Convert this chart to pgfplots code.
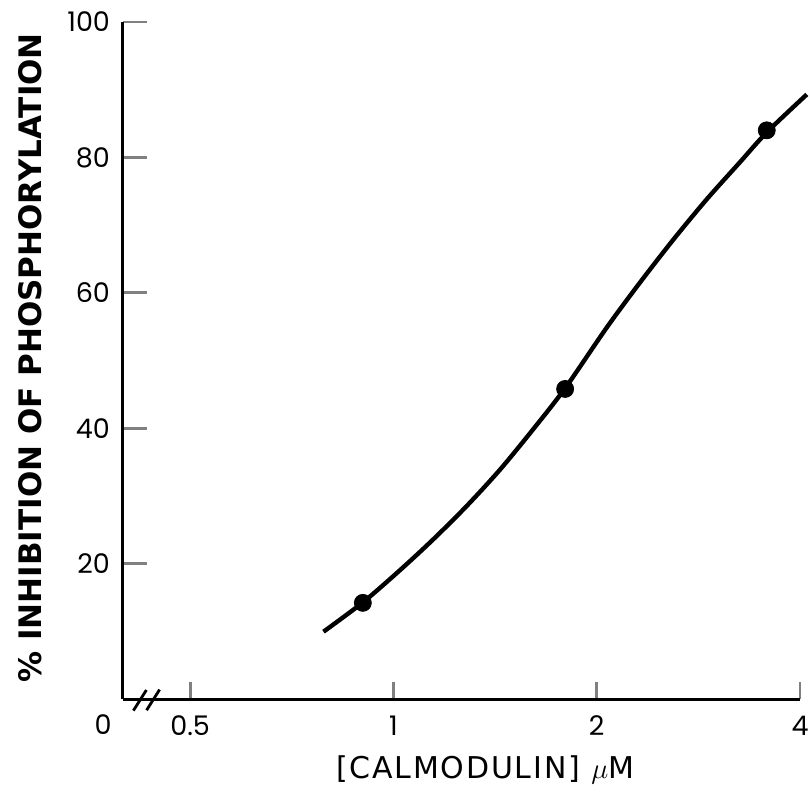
\documentclass[border=0pt]{standalone}
\usepackage{fontspec}
\setmainfont{Poppins}
\newfontfamily\ylabfont{DejaVu Sans}
\newfontfamily\xlabfont{DejaVu Sans}[LetterSpace=6]
\usepackage{pgfplots}
\pgfplotsset{compat=1.18}
\begin{document}
\begin{tikzpicture}
\begin{axis}[
    width=338.5pt, height=338.5pt, scale only axis,
    xmode=log, log basis x=2,
    xmin=0.3978, xmax=4, ymin=0, ymax=100,
    axis lines=left,
    axis line style={line width=1.5pt,-},
    xtick={0.5,1,2,4}, xticklabels={0.5,1,2,4},
    ytick={20,40,60,80,100},
    tick align=inside,
    major tick length=12pt,
    xtick style={line width=1.4pt,/pgfplots/major tick length=8.5pt},
    ytick style={line width=1.4pt},
    tick label style={font=\fontsize{13.5}{15}\selectfont},
    xticklabel style={yshift=-5pt},
    yticklabel style={xshift=-3pt},
    /pgf/number format/assume math mode=true,
    xlabel={[CALMODULIN] $\mu$M},
    ylabel={\% INHIBITION OF PHOSPHORYLATION},
    xlabel style={at={(axis description cs:0.535,-0.105)},anchor=center,font=\xlabfont\fontsize{15}{17}\selectfont},
    ylabel style={at={(axis description cs:-0.1374,0.504)},anchor=center,rotate=0,font=\ylabfont\bfseries\fontsize{15.5}{18}\selectfont},
    clip=false,
]
% fitted curve
\addplot[line width=2.2pt, smooth, no markers] coordinates {
    (0.788,9.94) (0.901,14.27) (1.023,19.04) (1.146,23.60) (1.284,28.51)
    (1.439,33.90) (1.612,39.89) (1.796,45.91) (2.070,54.88) (2.319,61.54)
    (2.598,67.87) (2.911,73.82) (3.261,79.31) (3.572,83.70) (4.094,89.30)
};
% measured points
\addplot[only marks, mark=*, mark size=4.25pt] coordinates {
    (0.901,14.2) (1.796,45.8) (3.572,84.0)
};
\node[font=\fontsize{13.5}{15}\selectfont] at ([xshift=-10pt,yshift=-13pt]axis cs:0.3978,0) {0};
\draw[line width=1.4pt] ([xshift=5.2pt,yshift=-5.8pt]axis cs:0.3978,0) -- ++(6.5pt,10.3pt);
\draw[line width=1.4pt] ([xshift=11.8pt,yshift=-5.6pt]axis cs:0.3978,0) -- ++(6.5pt,10.3pt);
\end{axis}
\pgfresetboundingbox
\path[use as bounding box] ([xshift=-61.5pt,yshift=-47pt]current axis.south west) rectangle ([xshift=4.5pt,yshift=11pt]current axis.north east);
\end{tikzpicture}
\end{document}
